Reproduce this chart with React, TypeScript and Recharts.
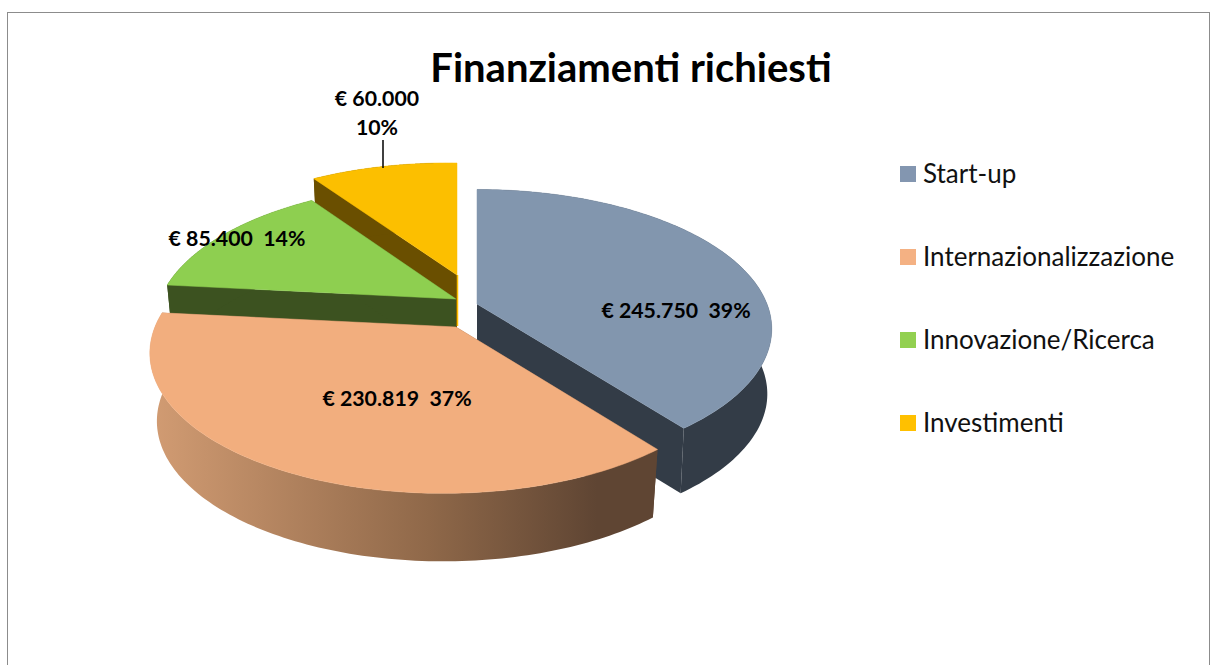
import React from 'react';
import { PieChart, Pie, Legend } from 'recharts';

const categories = ['Start-up', 'Internazionalizzazione', 'Innovazione/Ricerca', 'Investimenti'];
const values = [245750, 230819, 85400, 60000];
const amountLabels = ['€ 245.750', '€ 230.819', '€ 85.400', '€ 60.000'];
const percentLabels = ['39%', '37%', '14%', '10%'];
const topColors = ['#8296ae', '#f2ae7e', '#8ecf50', '#fcbf00'];
const legendColors = ['#8396b0', '#f4b183', '#92d050', '#ffc000'];
const wallColors = ['#333c47', 'url(#orangeWall)', '#3c5220', '#6a4f00'];
const paintOrder = [3, 2, 0, 1];

const shiftX = [21, 0, 0, 1];
const shiftY = [-23, 0, -28, -52];
const spreadX = [290, 290, 285, 283];
const spreadY = [135, 136.5, 135, 132];
const skew = [0, 0.0367, 0.0367, 0.0367];
const lowScale = [0.985, 0.977, 0.977, 0.977];
const depth = [65, 68, 68, 68];
const labelDX = [220, -59, -219, 0];
const labelDY = [-13, 75, -85.5, 0];

const CX = 456;
const CY = 327;
const TILT = 0.1786;
const data = categories.map((name, i) => ({ name, value: values[i], idx: i }));

function rim(angleDeg: number, i: number) {
  const t = ((90 - angleDeg) * Math.PI) / 180;
  const d = 1 + TILT * Math.cos(t) + skew[i] * Math.sin(t);
  return [(spreadX[i] * Math.sin(t)) / d, (-spreadY[i] * Math.cos(t)) / d];
}

function toPath(pts: number[][]) {
  return pts.map((p, k) => `${k ? 'L' : 'M'}${p[0].toFixed(2)},${p[1].toFixed(2)}`).join(' ') + ' Z';
}

function Slice3D(props: any) {
  const { cx, cy, startAngle, endAngle, payload, idx: rawIdx, layer } = props;
  const i = payload?.idx ?? rawIdx;
  if (i !== layer) return <g />;
  const ax = cx + shiftX[i];
  const ay = cy + shiftY[i];
  const N = 120;
  const arc: number[][] = [];
  for (let k = 0; k <= N; k++) arc.push(rim(startAngle + ((endAngle - startAngle) * k) / N, i));
  const top = (p: number[]) => [ax + p[0], ay + p[1]];
  const low = (p: number[]) => [ax + p[0] * lowScale[i], ay + p[1] + depth[i]];
  const wall = toPath([...arc.map(top), ...arc.slice().reverse().map(low)]);
  const face = (p: number[]) => toPath([top([0, 0]), top(p), low(p), low([0, 0])]);
  const cap = toPath([top([0, 0]), ...arc.map(top)]);
  const faceFill = i === 1 ? '#5f4533' : wallColors[i];
  return (
    <g>
      {i === 1 && (
        <defs>
          <linearGradient id="orangeWall" x1="0" y1="0" x2="1" y2="0">
            <stop offset="0" stopColor="#d29c73" />
            <stop offset="0.55" stopColor="#8f6849" />
            <stop offset="0.88" stopColor="#5f4533" />
            <stop offset="1" stopColor="#5f4533" />
          </linearGradient>
        </defs>
      )}
      <path d={face(arc[0])} fill={faceFill} />
      <path d={face(arc[N])} fill={faceFill} />
      <path d={wall} fill={wallColors[i]} />
      {i === 3 && <line x1={ax + 0.5} y1={ay} x2={ax + 0.5} y2={ay + 51} stroke={topColors[3]} strokeWidth={1.5} />}
      <path d={cap} fill={topColors[i]} stroke={topColors[i]} strokeWidth={0.5} />
    </g>
  );
}

const labelFont = { fontFamily: 'Lato, sans-serif', fontWeight: 700, fontSize: 21.3, fill: '#000' };

function SliceLabel(props: any) {
  const { cx, cy, layer } = props;
  const i = props.payload?.idx ?? props.idx;
  if (i !== layer) return <g />;
  if (i === 3) {
    return (
      <g>
        <text x={cx - 79} y={cy - 221} textAnchor="middle" {...labelFont}>{amountLabels[i]}</text>
        <text x={cx - 79} y={cy - 192} textAnchor="middle" {...labelFont}>{percentLabels[i]}</text>
        <line x1={cx - 73} y1={cy - 187} x2={cx - 73} y2={cy - 159} stroke="#000" strokeWidth={1.5} />
      </g>
    );
  }
  return (
    <text x={cx + labelDX[i]} y={cy + labelDY[i] - 1} textAnchor="middle" dominantBaseline="middle" style={{ whiteSpace: 'pre' }} {...labelFont}>
      {`${amountLabels[i]}  ${percentLabels[i]}`}
    </text>
  );
}

function LegendBox() {
  return (
    <div style={{ fontFamily: 'Lato, sans-serif', fontSize: 26, color: '#111', lineHeight: '30px' }}>
      {categories.map((c, i) => (
        <div key={c} style={{ position: 'absolute', left: 0, top: i * 83, height: 30, whiteSpace: 'nowrap' }}>
          <span style={{ position: 'absolute', left: 0, top: 7, width: 16, height: 16, background: legendColors[i] }} />
          <span style={{ position: 'absolute', left: 23, top: -1 }}>{c}</span>
        </div>
      ))}
    </div>
  );
}

export default function App() {
  return (
    <div style={{ position: 'absolute', left: 0, top: 0, width: 1217, height: 665, background: '#fff', overflow: 'hidden' }}>
      <div style={{ position: 'absolute', left: 7, top: 12, width: 1203, height: 700, border: '1.5px solid #8c8c8c', boxSizing: 'border-box' }} />
      <div style={{ position: 'absolute', left: 0, top: 0 }}>
        <PieChart width={1217} height={665} margin={{ top: 0, right: 0, bottom: 0, left: 0 }}>
          <text x={631} y={82} textAnchor="middle" style={{ fontFamily: 'Lato, sans-serif', fontWeight: 700, fontSize: 40, fill: '#000' }}>
            Finanziamenti richiesti
          </text>
          {paintOrder.map((layer) => (
            <Pie
              key={layer}
              data={data}
              dataKey="value"
              nameKey="name"
              cx={CX}
              cy={CY}
              outerRadius={290}
              startAngle={90}
              endAngle={-270}
              stroke="none"
              legendType={layer === 0 ? 'square' : 'none'}
              isAnimationActive={false}
              labelLine={false}
              shape={(p: any) => <Slice3D {...p} layer={layer} />}
              label={(p: any) => <SliceLabel {...p} layer={layer} />}
            />
          ))}
          <Legend
            layout="vertical"
            align="right"
            verticalAlign="top"
            wrapperStyle={{ position: 'absolute', left: 900, top: 159, width: 300, height: 300 }}
            content={() => <LegendBox />}
          />
        </PieChart>
      </div>
    </div>
  );
}
